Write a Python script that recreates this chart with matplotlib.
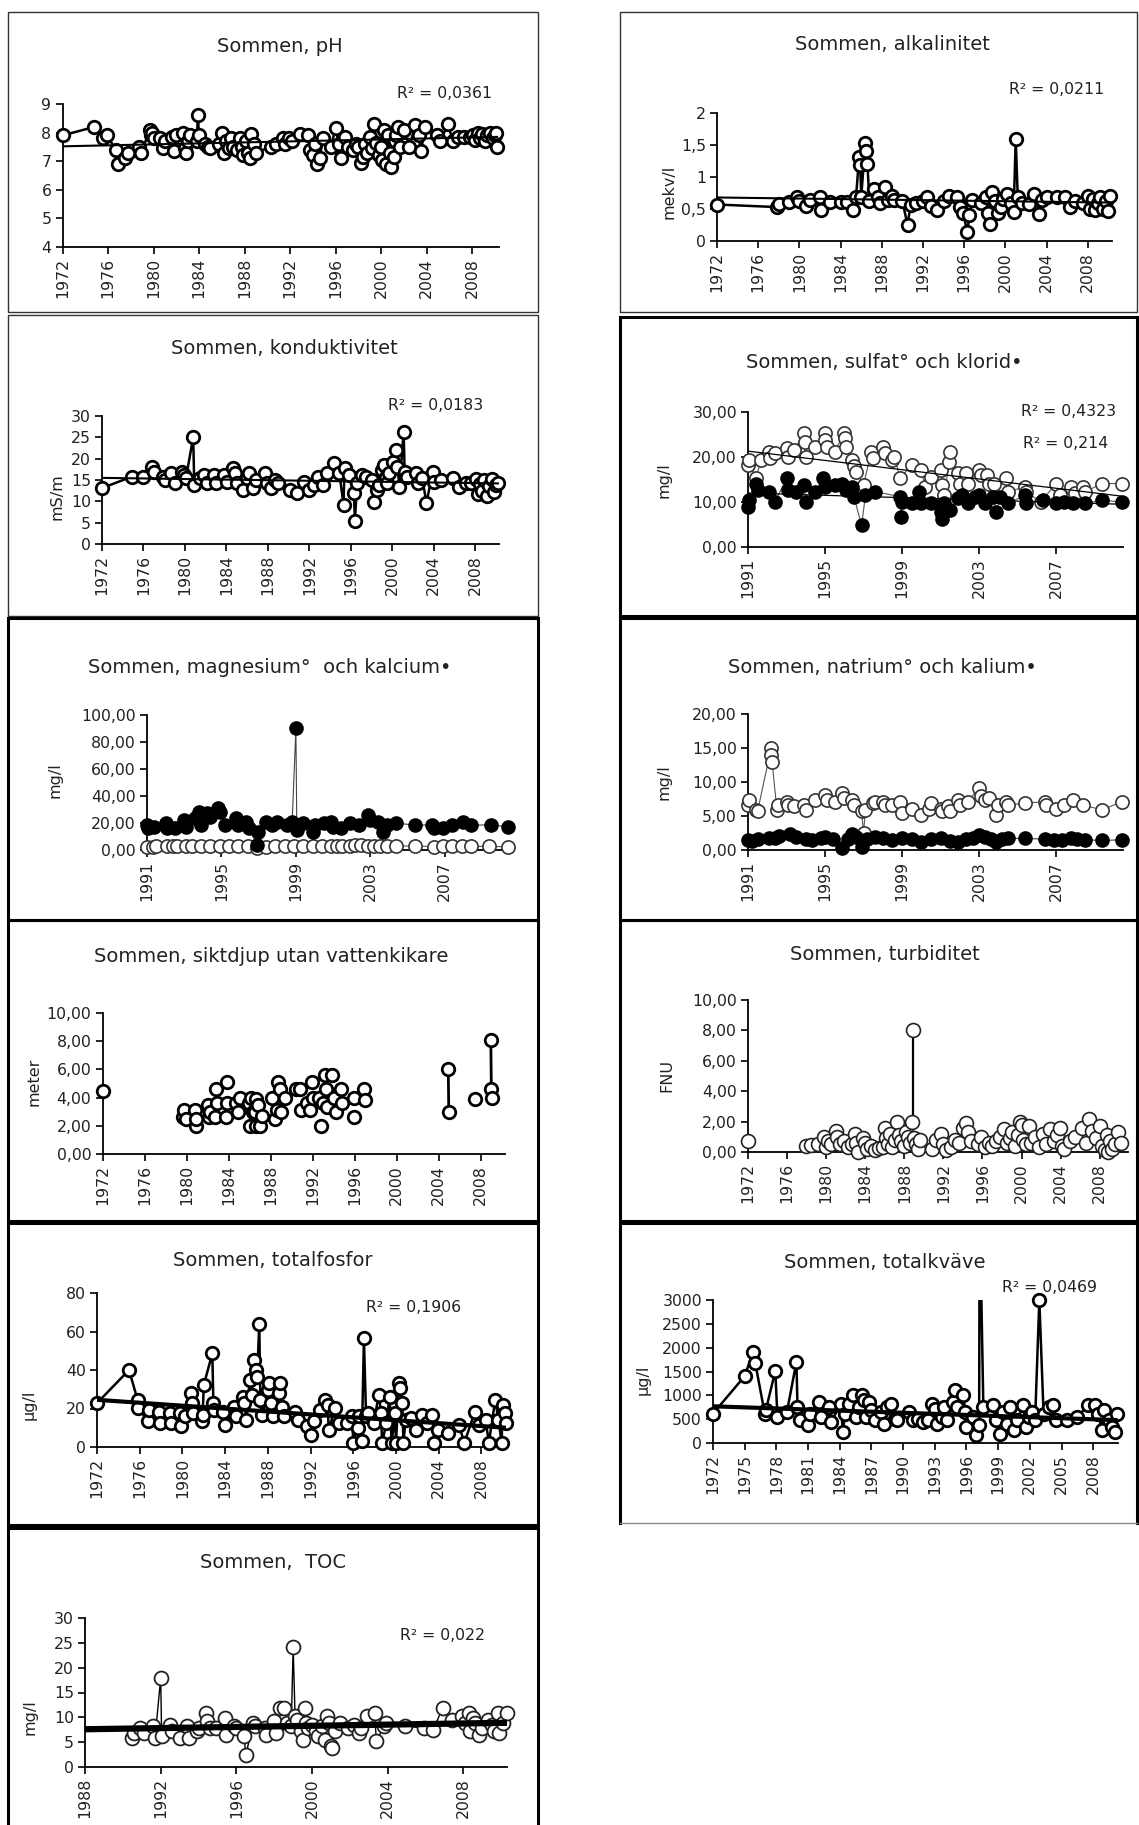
import matplotlib
matplotlib.use('Agg')
import matplotlib.pyplot as plt
import numpy as np
from matplotlib.patches import Rectangle
from matplotlib.lines import Line2D

W, H = 1139, 1825
plt.rcParams['font.family'] = ['DejaVu Sans']

# ---------------- DATA ----------------
# pH
ph_x = [1972.0,1974.8,1975.6,1975.9,1976.7,1976.9,1977.5,1977.8,1978.7,1978.9,1979.7,1979.8,1979.9,1980.0,1980.6,1980.8,1981.0,1981.6,1981.8,1982.0,
        1982.6,1982.8,1982.9,1983.0,1983.2,1983.8,1983.9,1984.0,1984.5,1984.8,1985.0,1985.8,1986.0,1986.2,1986.4,1986.6,1986.8,1987.0,1987.3,1987.6,
        1987.8,1987.9,1988.1,1988.3,1988.5,1988.6,1988.8,1989.0,1990.3,1990.8,1991.4,1991.6,1991.9,1992.2,1992.9,1993.6,1993.8,1994.0,1994.2,1994.4,
        1994.6,1994.9,1995.6,1996.0,1996.3,1996.5,1996.8,1997.1,1997.5,1997.8,1998.0,1998.2,1998.4,1998.6,1998.8,1999.0,1999.2,1999.4,1999.6,1999.8,
        2000.0,2000.1,2000.3,2000.4,2000.6,2000.8,2000.9,2001.1,2001.2,2001.3,2001.5,2001.7,2002.0,2002.5,2003.0,2003.3,2003.5,2003.9,2004.9,2005.2,
        2005.9,2006.3,2006.8,2007.3,2007.8,2008.1,2008.3,2008.5,2008.7,2008.9,2009.1,2009.3,2009.6,2009.8,2010.0,2010.1,2010.2]
ph_y = [7.9,8.2,7.8,7.9,7.4,6.9,7.1,7.3,7.5,7.3,8.1,7.9,8.0,7.8,7.8,7.45,7.7,7.85,7.35,7.9,
        8.0,7.45,7.3,7.7,7.9,7.7,8.6,7.9,7.6,7.5,7.45,7.6,8.0,7.3,7.7,7.45,7.8,7.5,7.4,7.8,
        7.5,7.2,7.7,7.3,7.1,7.95,7.6,7.3,7.5,7.6,7.8,7.6,7.8,7.7,7.95,7.9,7.4,7.2,7.6,6.9,
        7.1,7.8,7.5,8.15,7.6,7.1,7.85,7.5,7.4,7.6,7.5,6.95,7.15,7.6,7.3,7.85,7.45,8.3,7.65,7.2,
        7.5,7.05,8.1,6.9,7.9,7.3,6.8,7.15,7.7,7.9,8.2,7.5,8.1,7.5,8.25,7.9,7.35,8.2,7.9,7.7,
        8.3,7.7,7.85,7.85,7.85,7.9,7.75,8.0,7.8,7.95,7.7,7.9,8.0,7.8,7.9,8.0,7.5]
ph_trend_x = [1972.0, 2010.3]
ph_trend_y = [7.52, 7.85]

# alkalinitet
alk_x = [1972.0,1977.8,1978.0,1979.0,1979.8,1980.0,1980.6,1981.0,1982.0,1982.1,1983.0,1984.0,1984.6,1985.2,1985.5,1985.8,1985.9,1986.0,1986.4,1986.5,
         1986.6,1986.8,1987.2,1987.6,1987.8,1988.3,1988.6,1989.0,1989.2,1990.0,1990.5,1990.8,1991.3,1992.0,1992.4,1992.8,1993.4,1994.0,1994.5,1995.3,
         1995.6,1995.9,1996.3,1996.5,1996.8,1997.6,1998.1,1998.3,1998.5,1998.7,1999.0,1999.3,1999.6,1999.8,2000.2,2000.5,2000.8,2001.0,2001.2,2001.6,
         2002.3,2002.8,2003.3,2003.6,2004.0,2005.0,2005.8,2006.3,2006.8,2007.5,2008.0,2008.2,2008.5,2008.7,2009.0,2009.2,2009.5,2009.8,2010.0,2010.2]
alk_y = [0.57,0.53,0.58,0.61,0.69,0.62,0.55,0.64,0.69,0.48,0.61,0.61,0.61,0.48,0.69,1.32,1.19,0.69,1.53,1.40,
         1.21,0.62,0.82,0.69,0.60,0.85,0.64,0.70,0.64,0.62,0.25,0.57,0.59,0.63,0.68,0.55,0.48,0.63,0.70,0.69,
         0.53,0.43,0.14,0.40,0.64,0.59,0.69,0.43,0.27,0.76,0.62,0.43,0.53,0.66,0.74,0.60,0.45,1.60,0.68,0.60,
         0.58,0.74,0.42,0.64,0.69,0.69,0.69,0.53,0.63,0.60,0.70,0.50,0.65,0.48,0.60,0.68,0.50,0.63,0.47,0.70]
alk_trend_x = [1972.0, 2010.3]
alk_trend_y = [0.68, 0.60]

# konduktivitet
kond_x = [1972.0,1974.9,1976.0,1976.8,1977.0,1977.9,1978.1,1978.7,1979.0,1979.7,1979.9,1980.1,1980.8,1980.9,1981.5,1981.8,1982.1,1982.8,1983.0,1983.8,
          1984.1,1984.6,1984.8,1985.0,1985.6,1986.0,1986.2,1986.6,1986.9,1987.7,1987.9,1988.3,1988.7,1989.0,1990.1,1990.8,1991.5,1992.0,1992.5,1992.8,
          1993.3,1993.7,1994.4,1994.9,1995.3,1995.4,1995.8,1996.3,1996.4,1996.6,1997.1,1997.5,1998.0,1998.2,1998.5,1998.7,1999.0,1999.2,1999.4,1999.5,
          1999.7,2000.1,2000.4,2000.5,2000.7,2001.1,2001.2,2001.4,2002.3,2002.5,2002.9,2003.3,2003.9,2004.0,2004.7,2005.9,2006.4,2007.1,2007.6,2008.1,
          2008.3,2008.5,2008.7,2008.9,2009.1,2009.3,2009.6,2009.8,2010.0,2010.2]
kond_y = [13.1,15.8,15.8,18.1,16.9,15.8,15.0,16.6,14.2,16.9,16.2,15.4,25.1,13.8,15.4,16.2,14.2,16.2,14.2,16.2,
          14.6,17.7,16.6,14.2,12.7,15.4,16.6,13.1,15.0,16.6,14.2,13.1,15.0,14.2,12.7,11.9,14.6,12.7,13.8,15.8,
          13.8,16.6,18.9,16.6,9.2,17.7,16.2,11.9,5.3,14.2,16.2,15.8,15.0,9.9,12.7,13.8,17.3,18.5,15.8,14.2,
          16.6,19.3,22.0,18.1,13.4,26.3,16.9,15.8,16.6,14.2,15.4,9.6,16.9,14.6,15.0,15.4,13.4,14.2,14.2,15.2,
          11.8,14.0,12.5,15.0,11.2,13.5,15.3,12.2,13.8,14.4]
kond_trend_x = [1972.0, 2010.3]
kond_trend_y = [15.5, 14.2]

# sulfat (open) och klorid (filled)
sulf_x = [1991.0,1991.05,1991.4,1991.7,1992.1,1992.15,1992.4,1993.0,1993.1,1993.4,1993.9,1993.95,1994.0,1994.5,1995.0,1995.02,1995.1,1995.5,1996.0,1996.05,
          1996.1,1996.4,1996.5,1996.6,1997.0,1997.4,1997.5,1998.0,1998.1,1998.5,1998.6,1998.9,1999.5,2000.0,2000.2,2000.5,2001.0,2001.1,2001.2,2001.45,
          2001.5,2001.9,2002.0,2002.3,2002.4,2003.0,2003.1,2003.4,2003.5,2003.8,2004.4,2004.5,2005.4,2005.45,2006.2,2007.0,2007.2,2007.8,2008.0,2008.4,
          2008.5,2009.4,2010.4]
sulf_y = [18.2,19.4,15.3,19.4,21.2,19.7,20.8,22.0,20.1,21.6,25.3,23.4,20.1,22.3,25.3,23.8,22.3,21.2,25.3,24.2,
          22.3,19.4,17.9,16.7,13.8,21.2,19.7,22.3,20.8,19.4,20.1,15.3,18.2,17.1,13.4,15.6,17.1,13.8,11.5,19.0,
          21.2,16.4,14.1,16.4,14.1,17.1,16.0,16.0,14.1,14.1,15.3,12.3,13.4,12.3,10.0,14.1,11.5,13.4,11.9,13.4,
          12.3,14.1,14.1]
sulf_trend_x = [1991.0, 2010.4]
sulf_trend_y = [21.3, 11.3]
klor_x = [1991.0,1991.05,1991.4,1991.5,1992.1,1992.4,1993.0,1993.1,1993.5,1993.9,1994.0,1994.5,1994.9,1995.0,1995.5,1995.9,1996.1,1996.4,1996.5,1996.9,
          1997.1,1997.6,1998.9,1998.95,1999.0,1999.5,1999.9,2000.0,2000.5,2001.0,2001.1,2001.2,2001.5,2001.9,2002.1,2002.4,2002.8,2003.0,2003.3,2003.7,
          2003.9,2004.1,2004.5,2005.4,2005.45,2006.3,2007.0,2007.4,2007.9,2008.5,2009.4,2010.4]
klor_y = [8.9,10.4,14.1,12.7,12.3,10.0,15.3,12.7,12.3,13.8,10.0,12.3,15.3,13.4,13.8,14.1,12.7,13.4,11.2,4.8,
          11.5,12.3,11.2,6.7,10.0,9.7,12.3,9.7,9.7,7.8,6.3,9.7,8.2,10.8,11.5,9.7,11.2,11.5,9.7,11.2,
          7.8,11.2,9.7,11.5,9.7,10.4,9.7,10.0,9.7,9.7,10.4,10.0]
klor_trend_x = [1991.0, 2010.4]
klor_trend_y = [12.0, 9.5]

# magnesium (open) och kalcium (filled)
mg_x = [1991.0,1991.3,1991.5,1992.1,1992.4,1992.6,1993.1,1993.4,1993.9,1994.4,1994.9,1995.4,1995.9,1996.4,1996.9,1997.4,1997.9,1998.4,1998.9,1999.4,
        1999.9,2000.4,2000.9,2001.2,2001.5,2001.9,2002.2,2002.5,2002.9,2003.2,2003.5,2003.9,2004.4,2005.4,2006.4,2006.9,2007.4,2007.9,2008.4,2009.4,2010.4]
mg_y = [2.5,2.3,2.6,2.8,3.0,2.9,2.8,2.7,2.9,3.0,2.9,3.1,2.8,2.9,1.5,2.5,2.6,2.7,2.8,2.7,
        2.6,2.7,2.8,2.6,2.9,3.0,3.4,3.6,3.3,3.0,2.8,2.6,2.9,3.0,2.5,2.7,2.8,3.1,2.7,2.6,2.4]
ca_x = [1991.0,1991.05,1991.4,1992.0,1992.1,1992.5,1993.0,1993.1,1993.6,1993.8,1993.9,1994.2,1994.4,1994.8,1994.9,1995.2,1995.8,1995.9,1996.3,1996.5,
        1996.9,1996.95,1997.4,1997.7,1998.0,1998.5,1998.8,1999.0,1999.05,1999.4,1999.9,2000.0,2000.5,2000.9,2001.0,2001.4,2001.9,2002.4,2002.9,2003.0,
        2003.4,2003.7,2003.9,2004.4,2005.4,2006.3,2006.4,2006.9,2007.4,2008.0,2008.4,2009.5,2010.4]
ca_y = [18.5,16.0,17.3,19.8,16.0,16.0,22.2,17.3,23.5,28.4,18.5,27.2,24.7,30.9,28.4,18.5,23.5,18.5,21.0,16.0,
        3.7,13.6,21.0,18.5,21.0,18.5,21.0,90.1,14.8,19.8,13.6,18.5,19.8,21.0,17.3,16.0,19.8,18.5,25.9,22.2,
        21.0,13.6,18.5,19.8,18.5,18.5,16.0,16.0,18.5,21.0,18.5,18.5,17.3]

# natrium (open) och kalium (filled)
na_x = [1991.0,1991.05,1991.4,1991.5,1992.2,1992.22,1992.25,1992.5,1992.55,1993.0,1993.1,1993.4,1993.9,1994.0,1994.5,1995.0,1995.1,1995.5,1995.9,1996.0,
        1996.4,1996.5,1996.9,1997.0,1997.1,1997.5,1997.6,1998.0,1998.1,1998.5,1998.9,1999.0,1999.5,2000.0,2000.4,2000.5,2001.0,2001.1,2001.4,2001.5,
        2001.9,2002.0,2002.4,2003.0,2003.1,2003.3,2003.5,2003.9,2004.0,2004.4,2004.5,2005.4,2006.4,2006.5,2007.0,2007.4,2007.9,2008.4,2009.4,2010.4]
na_y = [6.6,7.4,5.9,5.7,15.0,14.0,13.0,5.9,6.6,7.1,6.6,6.4,6.6,5.9,7.4,8.1,7.4,7.1,8.4,7.6,
        7.4,6.6,5.7,2.5,5.9,6.9,7.1,7.1,6.6,6.6,7.1,5.4,6.1,5.2,6.1,6.9,6.1,5.7,6.4,5.7,
        7.4,6.6,7.1,9.1,7.9,7.4,7.6,5.2,6.6,7.1,6.6,6.9,7.1,6.6,6.1,6.6,7.4,6.6,5.9,7.1]
ka_x = [1991.0,1991.2,1991.5,1992.1,1992.4,1992.6,1993.2,1993.5,1994.0,1994.3,1994.8,1995.0,1995.4,1995.9,1996.2,1996.4,1996.6,1996.9,1997.2,1997.6,
        1998.0,1998.5,1999.0,1999.5,2000.0,2000.5,2001.0,2001.5,2001.9,2002.3,2002.7,2003.0,2003.3,2003.6,2003.9,2004.2,2004.5,2005.4,2006.4,2006.9,
        2007.3,2007.8,2008.1,2008.5,2009.4,2010.4]
ka_y = [1.5,1.3,1.6,1.7,1.8,2.0,2.3,1.9,1.6,1.5,1.7,1.9,1.6,0.3,1.6,2.3,1.9,0.4,1.6,1.9,
        1.7,1.5,1.7,1.6,1.2,1.6,1.7,1.3,1.2,1.6,1.8,2.2,1.9,1.6,1.2,1.6,1.7,1.7,1.6,1.4,
        1.5,1.8,1.6,1.5,1.4,1.5]

# siktdjup
sikt_x = [1972.0,1979.7,1979.8,1979.9,1980.8,1980.85,1980.9,1982.0,1982.1,1982.2,1982.8,1982.85,1982.7,1983.8,1983.85,1983.75,1984.7,1984.9,1985.1,1985.9,
          1986.0,1986.1,1986.3,1986.5,1986.6,1986.65,1986.8,1987.0,1987.2,1988.1,1988.4,1988.6,1988.7,1988.85,1989.0,1989.4,1990.4,1990.8,1990.85,1991.5,
          1991.7,1991.9,1992.0,1992.6,1992.8,1993.0,1993.2,1993.3,1993.4,1993.8,1994.0,1994.2,1994.7,1994.8,1995.9,1995.95,1996.9,1996.95,2004.9,2004.95,
          2007.4,2008.95,2009.0,2009.02]
sikt_y = [4.5,2.6,3.1,2.5,3.1,2.0,2.5,3.5,2.6,3.0,4.6,3.6,2.6,5.1,3.6,2.6,3.6,3.0,4.0,3.6,
          2.0,4.0,3.0,3.0,3.9,2.0,3.5,2.0,2.7,4.0,2.5,3.1,5.1,4.6,3.0,4.0,4.6,4.6,3.1,3.6,
          3.1,5.1,4.0,4.0,2.0,3.6,5.6,4.6,3.3,5.6,4.0,3.0,4.6,3.6,4.0,2.6,4.6,3.8,6.05,3.0,
          3.9,8.1,4.6,4.0]
sikt_pair1_x = [2004.9, 2004.95]
sikt_pair1_y = [6.05, 3.0]
sikt_pair2_x = [2008.95, 2009.0, 2009.02]
sikt_pair2_y = [8.1, 4.6, 4.0]

# turbiditet
turb_x = [1972.0,1977.9,1978.5,1979.2,1979.8,1980.0,1980.2,1980.5,1981.0,1981.1,1981.4,1981.8,1982.2,1982.6,1983.0,1983.1,1983.3,1983.8,1984.0,1984.2,
          1984.6,1985.0,1985.4,1985.8,1986.0,1986.1,1986.3,1986.5,1986.7,1987.0,1987.3,1987.5,1987.7,1988.0,1988.2,1988.4,1988.6,1988.8,1988.9,1989.0,
          1989.2,1989.4,1989.6,1990.8,1991.2,1991.8,1992.0,1992.3,1992.8,1993.2,1993.6,1994.0,1994.3,1994.5,1994.8,1995.5,1995.9,1996.3,1996.7,1997.0,
          1997.4,1997.8,1998.2,1998.5,1998.8,1999.0,1999.3,1999.6,1999.8,2000.0,2000.2,2000.5,2000.8,2001.0,2001.4,2001.8,2002.2,2002.5,2002.9,2003.3,
          2003.6,2003.9,2004.1,2004.3,2005.0,2005.5,2006.2,2006.6,2006.9,2007.2,2007.6,2008.0,2008.2,2008.5,2008.7,2008.9,2009.1,2009.3,2009.6,2009.9,2010.2]
turb_y = [0.74,0.4,0.45,0.55,1.0,0.3,0.7,0.5,1.4,1.0,0.5,0.7,0.3,0.5,1.2,0.6,0.0,0.9,0.6,0.2,
          0.4,0.15,0.25,0.3,1.6,0.9,0.5,1.2,0.3,0.8,2.0,1.1,0.7,0.4,1.3,1.0,0.6,2.0,8.0,0.9,
          0.5,0.2,0.8,0.2,0.8,1.2,0.5,0.1,0.3,0.8,0.6,1.6,1.9,1.3,0.7,0.5,1.0,0.3,0.6,0.4,
          0.7,1.0,1.5,0.6,0.9,1.3,0.4,1.1,2.0,1.8,0.8,0.5,1.7,0.6,1.0,0.3,1.2,0.5,1.5,0.7,
          1.1,1.6,0.4,0.2,0.7,1.0,1.6,0.6,2.2,1.4,0.9,1.7,0.4,0.1,1.1,0.0,0.7,0.2,0.5,1.3,0.6]
turb_spike_x = [1988.9, 1988.9]
turb_spike_y = [8.0, 0.9]

# totalfosfor
tp_x = [1972.0,1975.0,1975.8,1975.85,1976.8,1976.9,1977.8,1977.9,1978.8,1978.9,1979.8,1979.9,1980.2,1980.8,1980.9,1981.0,1981.8,1981.9,1982.0,1982.8,
        1982.9,1983.0,1983.8,1984.0,1984.8,1985.0,1985.7,1985.8,1986.0,1986.3,1986.5,1986.7,1986.9,1987.0,1987.2,1987.3,1987.5,1988.0,1988.1,1988.3,
        1988.5,1989.0,1989.1,1989.3,1989.5,1990.5,1990.8,1991.7,1992.0,1992.3,1992.9,1993.4,1993.6,1993.7,1994.3,1994.7,1995.4,1995.9,1996.0,1996.4,
        1996.5,1996.8,1997.0,1997.2,1997.4,1997.9,1998.4,1998.6,1998.7,1999.1,1999.4,1999.6,1999.9,2000.0,2000.3,2000.4,2000.6,2000.7,2000.9,2001.4,
        2001.9,2002.4,2002.9,2003.4,2003.6,2003.9,2004.9,2005.9,2006.4,2007.4,2007.8,2008.4,2008.7,2009.3,2009.6,2009.9,2010.0,2010.2,2010.3]
tp_y = [22.8,40.0,24.5,20.2,13.3,19.3,18.4,12.4,17.6,12.4,17.6,10.7,15.9,27.9,22.8,17.6,13.3,16.7,32.2,48.6,
        22.8,19.3,18.4,11.6,21.0,15.9,26.2,22.8,14.1,34.8,27.1,45.2,40.0,36.6,64.1,24.5,16.7,29.7,33.1,22.8,
        15.9,27.9,33.1,21.0,15.9,18.4,14.1,10.7,6.4,13.3,19.3,24.5,21.9,9.0,20.2,12.4,12.4,15.9,2.1,9.8,
        15.9,2.9,56.4,15.9,17.6,12.4,27.1,17.6,2.1,12.4,26.2,2.1,17.6,2.1,33.1,30.5,22.8,2.1,14.1,15.0,
        9.0,16.7,12.4,16.7,2.1,9.0,7.2,11.6,2.1,18.4,11.6,14.1,2.1,24.5,14.1,2.1,21.9,17.6,12.4]
tp_trend_x = [1972.0, 2010.3]
tp_trend_y = [24.5, 10.0]

# totalkväve
tn_x = [1972.0,1975.0,1975.8,1976.0,1976.9,1977.0,1977.9,1978.1,1979.0,1979.9,1980.0,1980.2,1981.0,1981.2,1982.0,1982.2,1983.0,1983.2,1984.1,1984.3,
        1984.5,1984.9,1985.3,1985.5,1985.8,1986.1,1986.3,1986.5,1986.8,1987.0,1987.3,1987.9,1988.2,1988.5,1988.9,1989.2,1989.4,1990.6,1990.9,1991.4,
        1991.9,1992.4,1992.7,1993.0,1993.2,1993.7,1993.9,1994.2,1994.7,1994.9,1995.1,1995.7,1995.9,1996.0,1996.6,1996.9,1997.2,1997.25,1997.6,1998.5,
        1998.8,1999.2,1999.5,1999.8,2000.1,2000.5,2000.8,2001.4,2001.6,2001.9,2002.2,2002.5,2002.9,2003.3,2003.8,2004.2,2004.5,2005.5,2006.5,2007.5,
        2008.2,2008.5,2008.8,2009.0,2009.5,2009.8,2010.1,2010.3]
tn_y = [617,1402,1914,1682,617,687,1514,547,652,1703,757,477,372,617,862,547,757,442,827,231,
        617,827,1002,547,757,1002,897,547,862,687,477,652,407,757,827,512,477,652,477,512,
        442,477,827,722,407,547,757,477,862,1107,757,1002,652,337,547,161,372,5000,757,792,
        477,196,652,407,757,266,477,792,337,547,652,477,3000,617,757,792,477,477,547,792,
        792,617,266,687,477,337,231,617]
tn_trend_x = [1972.0, 2010.3]
tn_trend_y = [770, 480]

# TOC
toc_x = [1990.5,1990.6,1990.9,1991.1,1991.6,1991.7,1992.0,1992.05,1992.5,1992.6,1993.0,1993.4,1993.5,1993.9,1994.0,1994.4,1994.45,1994.6,1994.9,1995.4,
         1995.45,1995.9,1996.0,1996.4,1996.5,1996.9,1997.0,1997.5,1997.55,1998.0,1998.1,1998.3,1998.5,1998.7,1998.9,1999.0,1999.1,1999.2,1999.4,1999.5,
         1999.6,1999.7,1999.8,2000.0,2000.2,2000.3,2000.5,2000.7,2000.8,2000.9,2001.0,2001.05,2001.2,2001.5,2001.9,2002.2,2002.5,2002.6,2002.9,2003.3,
         2003.4,2003.8,2003.9,2004.9,2005.9,2006.4,2006.9,2007.4,2007.9,2008.1,2008.3,2008.35,2008.5,2008.6,2008.8,2009.0,2009.3,2009.5,2009.6,2009.8,
         2009.9,2010.1,2010.3]
toc_y = [5.8,6.8,7.9,6.8,8.2,5.8,17.9,6.2,8.5,7.2,5.8,8.2,5.8,7.2,7.9,10.9,9.2,7.9,7.9,9.9,
         6.5,8.2,7.9,6.2,2.5,8.9,8.2,7.9,6.5,9.2,6.8,11.9,11.9,8.9,8.2,24.2,10.2,9.5,7.2,5.5,
         11.9,8.9,7.9,8.5,7.2,6.2,8.2,5.5,10.2,8.9,4.2,3.8,7.2,8.9,7.9,8.5,6.8,7.9,10.2,10.9,
         5.2,8.2,8.9,8.2,7.9,7.5,11.9,9.5,10.2,8.9,10.9,7.2,9.9,8.9,6.5,7.9,9.5,8.5,7.2,10.9,
         6.8,8.9,10.9]
toc_trend_x = [1988.0, 2010.3]
toc_trend_y = [7.6, 8.9]

# tick labels
yrs4 = list(range(1972, 2009, 4))
yrs91 = list(range(1991, 2008, 4))
yrs3 = list(range(1972, 2009, 3))
yrs88 = list(range(1988, 2009, 4))

# ---------------- LAYOUT HELPERS ----------------
fig = plt.figure(figsize=(W/100, H/100), dpi=100)

def make_ax(l, r, t, b, xlim, ylim, yticks, yticklabels, xticks):
    ax = fig.add_axes([l/W, 1 - b/H, (r - l)/W, (b - t)/H])
    ax.set_xlim(*xlim)
    ax.set_ylim(*ylim)
    for s in ['top', 'right']:
        ax.spines[s].set_visible(False)
    for s in ['left', 'bottom']:
        ax.spines[s].set_linewidth(1.3)
        ax.spines[s].set_color('black')
    ax.set_yticks(yticks)
    ax.set_yticklabels(yticklabels)
    ax.set_xticks(xticks)
    ax.set_xticklabels([str(v) for v in xticks], rotation=90)
    ax.tick_params(axis='both', direction='out', length=5, width=1.2, labelsize=11.3, colors='black', pad=3)
    ax.tick_params(axis='y', labelcolor='#222222')
    ax.tick_params(axis='x', labelcolor='#222222')
    ax.patch.set_alpha(0)
    return ax

def ftext(x, y, s, size=11.3, **kw):
    fig.text(x/W, 1 - y/H, s, ha='center', va='center', fontsize=size, color='#222222', **kw)

def box(x0, y0, x1, y1, lw, color='black'):
    fig.patches.append(Rectangle((x0/W, 1 - y1/H), (x1 - x0)/W, (y1 - y0)/H, transform=fig.transFigure,
                                 fill=False, lw=lw, edgecolor=color, zorder=0))

def fline(xs, ys, lw, color='black'):
    fig.lines.append(Line2D([v/W for v in xs], [1 - v/H for v in ys], transform=fig.transFigure,
                            lw=lw, color=color, zorder=0))

def series(ax, x, y, filled=False, lw=1.5, ms=9.0, mew=2.0, line=True, lc='black', ec='black', ymax=None):
    x = np.asarray(x, float); y = np.asarray(y, float)
    if line:
        ax.plot(x, y, '-', color=lc, lw=lw, zorder=3)
    m = np.ones_like(y, bool) if ymax is None else (y <= ymax)
    ax.plot(x[m], y[m], 'o', ls='none', ms=ms, mew=mew, mfc=('black' if filled else 'white'),
            mec=ec, zorder=4, clip_on=False)

def trend(ax, x, y, lw=1.5):
    ax.plot(x, y, '-', color='black', lw=lw, zorder=5, solid_capstyle='butt')

TS = 14  # title size

# ---------------- PANEL BOXES ----------------
box(8, 12, 538, 312, 1.0, '#333333')
box(620, 12, 1137, 312, 1.0, '#333333')
box(8, 315, 538, 616, 1.0, '#333333')
box(620, 317, 1137, 616, 2.2)
box(8, 618, 538, 920, 2.2)
box(620, 618, 1137, 920, 2.2)
box(8, 920, 538, 1221, 2.2)
box(620, 920, 1137, 1221, 2.2)
box(8, 1223, 538, 1525, 2.2)
# panel 10: thick left/top/right, thin grey bottom
fline([620, 620, 1137, 1137], [1523, 1223, 1223, 1523], 2.2)
fline([620, 1137], [1523, 1523], 1.0, '#888888')
box(8, 1528, 538, 1835, 2.2)

# ---------------- PANEL 1: pH ----------------
ax = make_ax(62.5, 499, 104, 247, (1972, 2010.37), (4, 9), [4,5,6,7,8,9], ['4','5','6','7','8','9'], yrs4)
series(ax, ph_x, ph_y, lw=1.8)
trend(ax, ph_trend_x, ph_trend_y, 1.5)
ftext(280, 47, 'Sommen, pH', TS)
ftext(445, 93, 'R² = 0,0361')

# ---------------- PANEL 2: alkalinitet ----------------
ax = make_ax(717, 1111.5, 113, 241, (1972, 2010.3), (0, 2), [0,0.5,1,1.5,2], ['0','0,5','1','1,5','2'], yrs4)
series(ax, alk_x, alk_y, lw=1.8)
trend(ax, alk_trend_x, alk_trend_y, 1.5)
ftext(892, 45, 'Sommen, alkalinitet', TS)
ftext(1057, 90, 'R² = 0,0211')
ftext(669, 192, 'mekv/l', 11.5, rotation=90)

# ---------------- PANEL 3: konduktivitet ----------------
ax = make_ax(102, 499, 416, 544, (1972, 2010.3), (0, 30), [0,5,10,15,20,25,30], ['0','5','10','15','20','25','30'], yrs4)
series(ax, kond_x, kond_y, lw=1.8)
trend(ax, kond_trend_x, kond_trend_y, 1.5)
ftext(284, 348, 'Sommen, konduktivitet', TS)
ftext(436, 406, 'R² = 0,0183')
ftext(57, 497, 'mS/m', 11.5, rotation=90)

# ---------------- PANEL 4: sulfat och klorid ----------------
ax = make_ax(748, 1122.5, 412, 547, (1991, 2010.45), (0, 30), [0,10,20,30], ['0,00','10,00','20,00','30,00'], yrs91)
series(ax, sulf_x, sulf_y, lw=0.8, mew=1.2, ms=9.5, lc='#555555', ec='#333333')
series(ax, klor_x, klor_y, filled=True, lw=0.8, mew=1.0, ms=9.5, lc='#555555')
trend(ax, sulf_trend_x, sulf_trend_y, 0.9)
trend(ax, klor_trend_x, klor_trend_y, 0.9)
ftext(884, 363, 'Sommen, sulfat° och klorid•', TS)
ftext(1069, 412, 'R² = 0,4323')
ftext(1066, 443, 'R² = 0,214')
ftext(664, 480, 'mg/l', 11.5, rotation=90)

# ---------------- PANEL 5: magnesium och kalcium ----------------
ax = make_ax(147, 509, 715, 850, (1991, 2010.45), (0, 100), [0,20,40,60,80,100], ['0,00','20,00','40,00','60,00','80,00','100,00'], yrs91)
series(ax, mg_x, mg_y, lw=0.8, mew=1.2, ms=9.5, lc='#555555', ec='#333333')
series(ax, ca_x, ca_y, filled=True, lw=0.8, mew=1.0, ms=9.5, lc='#444444')
ftext(270, 667, 'Sommen, magnesium°  och kalcium•', TS)
ftext(55, 780, 'mg/l', 11.5, rotation=90)

# ---------------- PANEL 6: natrium och kalium ----------------
ax = make_ax(748, 1122.5, 714, 850, (1991, 2010.45), (0, 20), [0,5,10,15,20], ['0,00','5,00','10,00','15,00','20,00'], yrs91)
series(ax, na_x, na_y, lw=0.8, mew=1.2, ms=9.5, lc='#555555', ec='#333333')
series(ax, ka_x, ka_y, filled=True, lw=0.8, mew=1.0, ms=9.5, lc='#444444')
ftext(882, 667, 'Sommen, natrium° och kalium•', TS)
ftext(664, 782, 'mg/l', 11.5, rotation=90)

# ---------------- PANEL 7: siktdjup ----------------
ax = make_ax(102.5, 505, 1013, 1154, (1972, 2010.3), (0, 10), [0,2,4,6,8,10], ['0,00','2,00','4,00','6,00','8,00','10,00'], yrs4)
ax.plot(sikt_pair1_x, sikt_pair1_y, '-', color='black', lw=2.0, zorder=3)
ax.plot(sikt_pair2_x, sikt_pair2_y, '-', color='black', lw=2.0, zorder=3)
series(ax, sikt_x, sikt_y, line=False, mew=2.0)
ftext(271, 957, 'Sommen, siktdjup utan vattenkikare', TS)
ftext(34, 1082, 'meter', 11.5, rotation=90)

# ---------------- PANEL 8: turbiditet ----------------
ax = make_ax(748, 1128, 1000, 1152, (1972, 2010.9), (0, 10), [0,2,4,6,8,10], ['0,00','2,00','4,00','6,00','8,00','10,00'], yrs4)
ax.plot(turb_spike_x, turb_spike_y, '-', color='black', lw=1.6, zorder=3)
series(ax, turb_x, turb_y, line=False, mew=1.2, ms=10, ec='#222222')
ftext(885, 954, 'Sommen, turbiditet', TS)
ftext(667, 1075, 'FNU', 11.5, rotation=90)

# ---------------- PANEL 9: totalfosfor ----------------
ax = make_ax(97, 507, 1293, 1447, (1972, 2010.4), (0, 80), [0,20,40,60,80], ['0','20','40','60','80'], yrs4)
series(ax, tp_x, tp_y, lw=1.8)
trend(ax, tp_trend_x, tp_trend_y, 3.0)
ftext(273, 1260, 'Sommen, totalfosfor', TS)
ftext(414, 1308, 'R² = 0,1906')
ftext(29, 1405, 'µg/l', 11.5, rotation=90)

# ---------------- PANEL 10: totalkväve ----------------
ax = make_ax(713, 1118, 1300, 1443, (1972, 2010.35), (0, 3000), [0,500,1000,1500,2000,2500,3000],
             ['0','500','1000','1500','2000','2500','3000'], yrs3)
series(ax, tn_x, tn_y, lw=1.8, ymax=3000)
trend(ax, tn_trend_x, tn_trend_y, 3.0)
ftext(885, 1262, 'Sommen, totalkväve', TS)
ftext(1049, 1287, 'R² = 0,0469')
ftext(643, 1380, 'µg/l', 11.5, rotation=90)

# ---------------- PANEL 11: TOC ----------------
ax = make_ax(85, 507, 1618, 1767, (1988, 2010.3), (0, 30), [0,5,10,15,20,25,30], ['0','5','10','15','20','25','30'], yrs88)
series(ax, toc_x, toc_y, lw=1.0, mew=1.3, ms=10, ec='#222222')
trend(ax, toc_trend_x, toc_trend_y, 4.5)
ftext(273, 1563, 'Sommen,  TOC', TS)
ftext(443, 1635, 'R² = 0,022')
ftext(30, 1717, 'mg/l', 11.5, rotation=90)

fig.savefig('out.png', dpi=100, facecolor='white')
